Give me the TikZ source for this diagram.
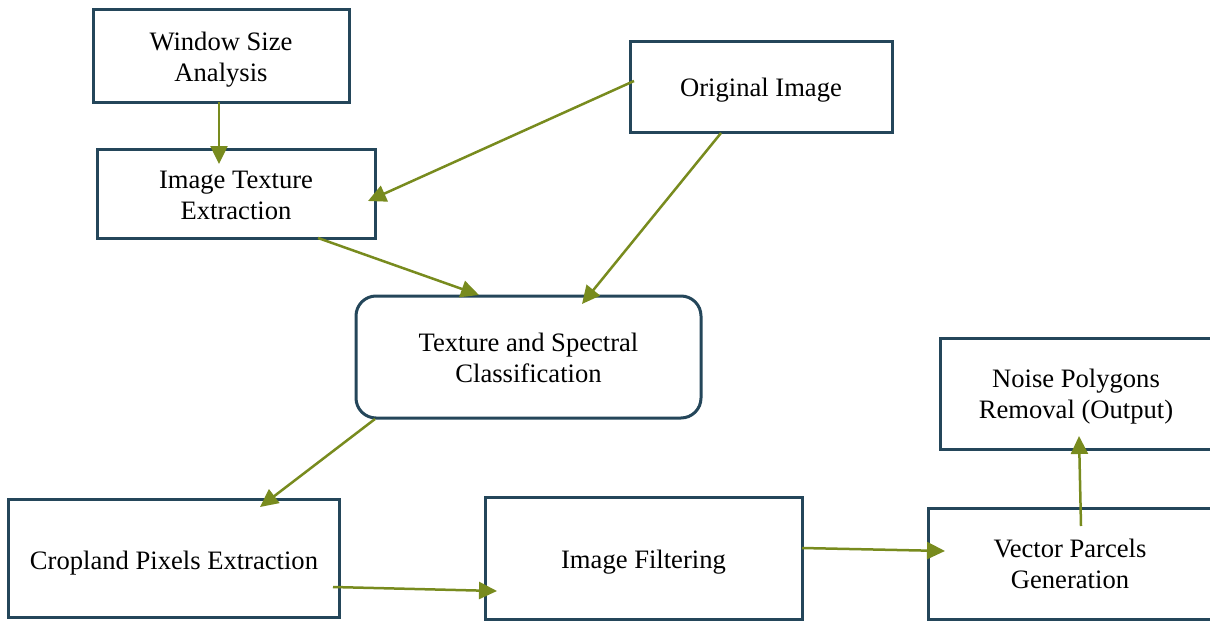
\documentclass[tikz,border=0pt]{standalone}
\usepackage{fontspec}
\setmainfont{Liberation Serif}
\usetikzlibrary{arrows.meta}
\definecolor{boxcol}{HTML}{24465A}
\definecolor{arrcol}{HTML}{788B1E}
\begin{document}
\begin{tikzpicture}[x=0.5pt,y=-0.5pt,
  box/.style={draw=boxcol,line width=1.5pt,fill=white,inner sep=0pt,outer sep=0pt},
  txt/.style={inner sep=0pt,align=center,font=\fontsize{13.3pt}{15.5pt}\selectfont},
  arr/.style={draw=arrcol,line width=1.25pt,-{Triangle[length=9pt,width=8.5pt]}}]
\useasboundingbox (0,0) rectangle (1210,621);
\node[box,minimum width=128pt,minimum height=46.5pt] (win) at (221,55.5) {};
\node[txt] (winT) at ([yshift=-2pt]win.center) {Window Size\\Analysis};
\node[box,minimum width=131pt,minimum height=45.5pt] (orig) at (761,86.5) {};
\node[txt] (origT) at ([yshift=-2pt]orig.center) {Original Image};
\node[box,minimum width=139pt,minimum height=44.5pt] (tex) at (236,193.5) {};
\node[txt] (texT) at ([yshift=-0.8pt]tex.center) {Image Texture\\Extraction};
\node[box,rounded corners=10pt,minimum width=172.5pt,minimum height=61pt] (cls) at (528.5,357) {};
\node[txt] (clsT) at ([yshift=-0.5pt]cls.center) {Texture and Spectral\\Classification};
\node[box,minimum width=165.5pt,minimum height=59pt] (crop) at (174,558) {};
\node[txt] (cropT) at ([yshift=-2.5pt]crop.center) {Cropland Pixels Extraction};
\node[box,minimum width=158.5pt,minimum height=61pt] (filt) at (643.5,558) {};
\node[txt] (filtT) at ([yshift=-2pt]filt.center) {Image Filtering};
\node[box,minimum width=142pt,minimum height=55.5pt] (vec) at (1070,563.5) {};
\node[txt] (vecT) at (vec.center) {Vector Parcels\\Generation};
\node[box,minimum width=136pt,minimum height=55.5pt] (noise) at (1076,393.5) {};
\node[txt] (noiseT) at ([yshift=-1.7pt]noise.center) {Noise Polygons\\Removal (Output)};
% arrow end points
\coordinate (a1s) at (219,102);  \coordinate (a1e) at (219,164);
\coordinate (a2s) at (634,81);   \coordinate (a2e) at (368,201);
\coordinate (a3s) at (318,238);  \coordinate (a3e) at (479,295);
\coordinate (a4s) at (721,133);  \coordinate (a4e) at (582,304);
\coordinate (a5s) at (375,419);  \coordinate (a5e) at (260,507);
\coordinate (a6s) at (333,587);  \coordinate (a6e) at (497,591);
\coordinate (a7s) at (802,548);  \coordinate (a7e) at (945,551);
\coordinate (a8s) at (1081,526); \coordinate (a8e) at (1079,436);
\draw[arr] (a1s) -- (a1e);
\draw[arr] (a2s) -- (a2e);
\draw[arr] (a3s) -- (a3e);
\draw[arr] (a4s) -- (a4e);
\draw[arr] (a5s) -- (a5e);
\draw[arr] (a6s) -- (a6e);
\draw[arr] (a7s) -- (a7e);
\draw[arr] (a8s) -- (a8e);
\end{tikzpicture}
\end{document}
